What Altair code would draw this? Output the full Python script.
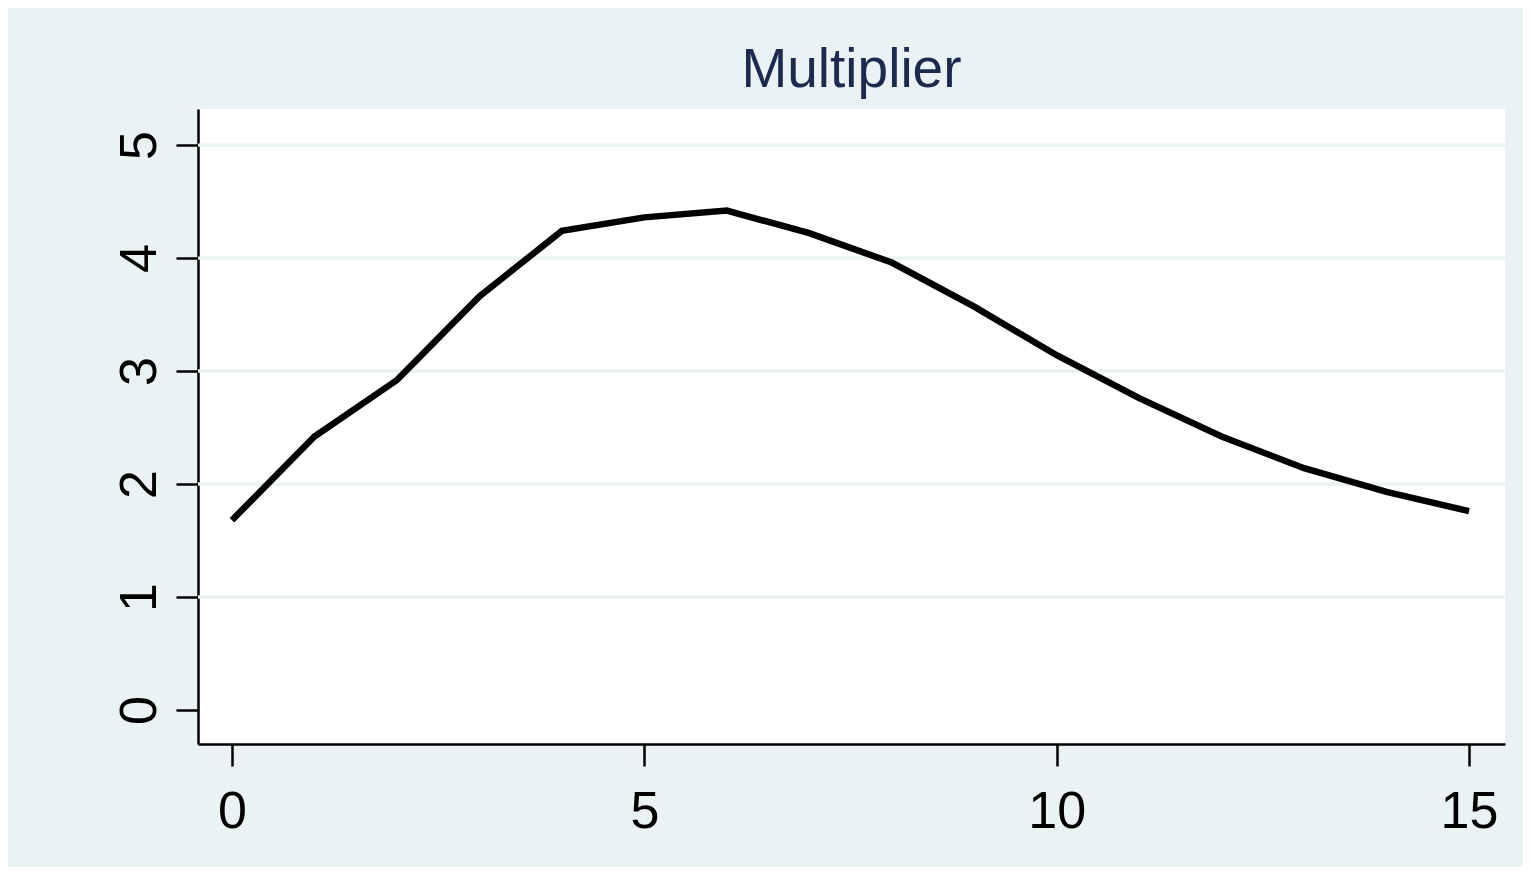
import altair as alt
import pandas as pd

horizon = [0, 1, 2, 3, 4, 5, 6, 7, 8, 9, 10, 11, 12, 13, 14, 15]
multiplier = [1.68, 2.42, 2.92, 3.66, 4.24, 4.36, 4.42, 4.22, 3.96, 3.57,
              3.14, 2.76, 2.42, 2.14, 1.93, 1.76]
grid_values = [1, 2, 3, 4, 5]
x_ticks = [0, 5, 10, 15]
y_ticks = [0, 1, 2, 3, 4, 5]

df = pd.DataFrame({"h": horizon, "m": multiplier})
gdf = pd.DataFrame({"g": grid_values})

FONT = "Liberation Sans"
BG = "#EAF2F3"

xs = alt.Scale(domain=[-0.412, 15.436], nice=False, zero=False)
ys = alt.Scale(domain=[-0.301, 5.319], nice=False, zero=False)

grid = alt.Chart(gdf).mark_rule(color=BG, strokeWidth=3.3).encode(
    y=alt.Y("g:Q", scale=ys),
    x=alt.value(0),
    x2=alt.value(1307),
)

line = alt.Chart(df).mark_line(color="black", strokeWidth=6.5, strokeCap="butt").encode(
    x=alt.X("h:Q", scale=xs,
            axis=alt.Axis(values=x_ticks, title=None, grid=False, format="d",
                          labelFontSize=52, labelFont=FONT, labelColor="black",
                          labelBaseline="alphabetic", labelPadding=61,
                          tickSize=22, tickWidth=2.5, tickColor="black",
                          domainColor="black", domainWidth=2.5)),
    y=alt.Y("m:Q", scale=ys,
            axis=alt.Axis(values=y_ticks, title=None, grid=False, format="d",
                          labelFontSize=52, labelFont=FONT, labelColor="black",
                          labelAngle=270, labelAlign="center",
                          labelBaseline="alphabetic", labelPadding=21,
                          tickSize=22, tickWidth=2.5, tickColor="black",
                          domainColor="black", domainWidth=2.5)),
)

chart = alt.layer(grid, line).properties(
    width=1307,
    height=635,
    background=BG,
    autosize=alt.AutoSizeParams(type="none"),
    padding={"left": 190, "top": 101, "right": 18, "bottom": 123},
    title=alt.TitleParams(text="Multiplier", fontSize=55, font=FONT,
                          fontWeight="normal", color="#1B2A4E",
                          anchor="middle", frame="group",
                          baseline="alphabetic", offset=-33),
).configure_view(fill="white", stroke=None)

chart.save("out.html", embed_options={"renderer": "svg", "actions": False})
